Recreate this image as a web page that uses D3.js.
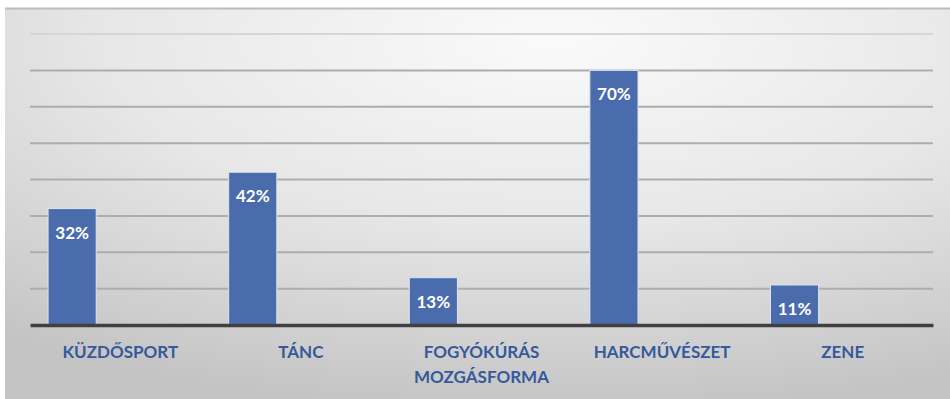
<!DOCTYPE html>
<html>
<head>
<meta charset="utf-8">
<script src="https://cdn.jsdelivr.net/npm/d3@7"></script>
<style>
  html, body { margin: 0; padding: 0; background: #ffffff; }
  svg { display: block; }
</style>
</head>
<body>
<svg id="chart" width="950" height="399"></svg>
<script>
const categories = ["KÜZDŐSPORT", "TÁNC", "FOGYÓKÚRÁS MOZGÁSFORMA", "HARCMŰVÉSZET", "ZENE"];
const categoryLines = [["KÜZDŐSPORT"], ["TÁNC"], ["FOGYÓKÚRÁS", "MOZGÁSFORMA"], ["HARCMŰVÉSZET"], ["ZENE"]];
const values = [32, 42, 13, 70, 11];
const gridTicks = [0, 10, 20, 30, 40, 50, 60, 70, 80];

const W = 950, H = 399;
const plot = { left: 30, right: 933, top: 34, bottom: 325 };

const svg = d3.select("#chart");
const defs = svg.append("defs");
const grad = defs.append("radialGradient")
  .attr("id", "bg")
  .attr("cx", 0.58).attr("cy", 0.08).attr("r", 0.95)
  .attr("fx", 0.58).attr("fy", 0.08);
grad.append("stop").attr("offset", 0).attr("stop-color", "#fafafa");
grad.append("stop").attr("offset", 0.5).attr("stop-color", "#e7e7e7");
grad.append("stop").attr("offset", 1).attr("stop-color", "#c4c4c4");

// panel
svg.append("rect").attr("x", 5).attr("y", 8).attr("width", W - 5).attr("height", H - 8)
  .attr("fill", "url(#bg)");
svg.append("line").attr("x1", 5).attr("x2", W).attr("y1", 8.5).attr("y2", 8.5)
  .attr("stroke", "#bcbcbc").attr("stroke-width", 2);

const x = d3.scaleBand().domain(categories).range([plot.left, plot.right]).paddingInner(0).paddingOuter(0);
const y = d3.scaleLinear().domain([0, 80]).range([plot.bottom, plot.top]);

// gridlines
svg.append("g").selectAll("line")
  .data(gridTicks.filter(t => t > 0))
  .join("line")
  .attr("x1", plot.left).attr("x2", plot.right)
  .attr("y1", d => y(d)).attr("y2", d => y(d))
  .attr("stroke", d => d === 80 ? "#d6d6d6" : "#adadad")
  .attr("stroke-width", 2);

// bars: first of three clustered slots in each category
const bw = x.bandwidth();
const slot = bw * 0.8 / 3;
const barOffset = bw / 2 - slot * 1.5;
svg.append("g").selectAll("rect")
  .data(values)
  .join("rect")
  .attr("x", (d, i) => x(categories[i]) + barOffset)
  .attr("width", slot)
  .attr("y", d => y(d))
  .attr("height", d => y(0) - y(d))
  .attr("fill", "#4a6cad")
  .attr("stroke", "#dfe5ef")
  .attr("stroke-width", 1);

// data labels
svg.append("g").selectAll("text")
  .data(values)
  .join("text")
  .attr("x", (d, i) => x(categories[i]) + barOffset + slot / 2)
  .attr("y", d => y(d) + 30)
  .attr("text-anchor", "middle")
  .attr("font-family", "Lato, 'Open Sans', sans-serif")
  .attr("font-weight", "bold")
  .attr("font-size", "17px")
  .attr("fill", "#ffffff")
  .text(d => d + "%");

// baseline axis
const xAxis = d3.axisBottom(x).tickSize(0).tickFormat("");
const ax = svg.append("g").attr("transform", `translate(0,${plot.bottom})`).call(xAxis);
ax.select(".domain").attr("stroke", "#404040").attr("stroke-width", 3.5);

// category labels
const lab = svg.append("g").selectAll("text")
  .data(categories)
  .join("text")
  .attr("x", d => x(d) + bw / 2)
  .attr("y", 358)
  .attr("text-anchor", "middle")
  .attr("font-family", "Lato, 'Open Sans', sans-serif")
  .attr("font-weight", "bold")
  .attr("font-size", "17px")
  .attr("fill", "#36599b");
lab.each(function(d, i) {
  const t = d3.select(this);
  categoryLines[i].forEach((line, j) => {
    t.append("tspan").attr("x", x(d) + bw / 2).attr("dy", j === 0 ? 0 : 25).text(line);
  });
});
</script>
</body>
</html>
